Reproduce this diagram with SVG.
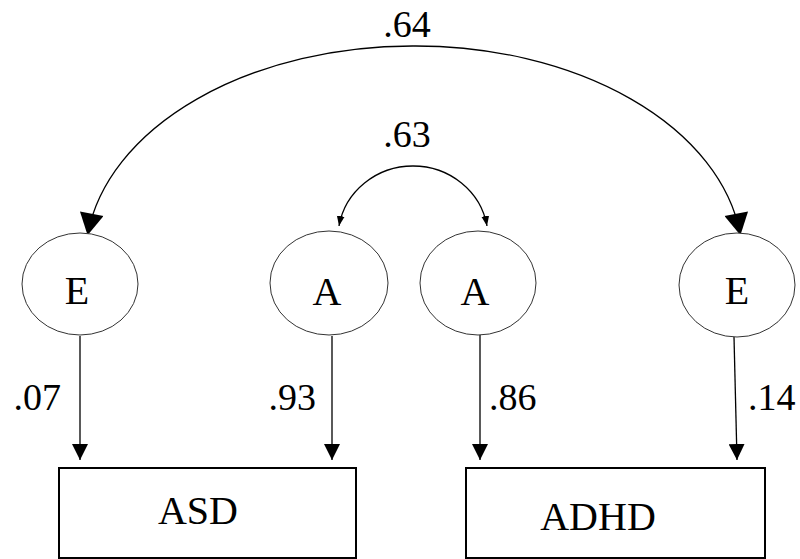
<svg xmlns="http://www.w3.org/2000/svg" width="800" height="559" viewBox="0 0 800 559">
<defs>
<style>
.t{font-family:"Liberation Serif","Times New Roman",serif;fill:#000}
.lbl{font-size:38px}
.nm{font-size:40px}
.lat{fill:#fff;stroke:#333;stroke-width:1}
.obs{fill:#fff;stroke:#000;stroke-width:2}
.c{fill:none;stroke:#000;stroke-width:1.3}
</style>
<marker id="big" markerUnits="userSpaceOnUse" markerWidth="24" markerHeight="24" viewBox="0 0 20 22" refX="18" refY="11" orient="auto">
<polygon points="0,0 20,11 0,22" fill="#000"/>
</marker>
<marker id="mid" markerUnits="userSpaceOnUse" markerWidth="16" markerHeight="16" viewBox="0 0 14 14" refX="14" refY="7" orient="auto">
<polygon points="0,0 14,7 0,14" fill="#000"/>
</marker>
<marker id="small" markerUnits="userSpaceOnUse" markerWidth="10" markerHeight="10" viewBox="0 0 9 7" refX="9" refY="3.5" orient="auto">
<polygon points="0,0 9,3.5 0,7" fill="#000"/>
</marker>
</defs>
<rect width="800" height="559" fill="#fff"/>
<g id="connectors">
<path class="c" d="M 414 46 A 327 214 0 0 0 88 233" marker-end="url(#big)"/>
<path class="c" d="M 414 46 A 327 214 0 0 1 740 233" marker-end="url(#big)"/>
<path class="c" d="M 413 166 A 75 72 0 0 0 339 226" marker-end="url(#small)"/>
<path class="c" d="M 413 166 A 75 72 0 0 1 487 226" marker-end="url(#small)"/>
<line class="c" x1="80" y1="336" x2="80" y2="460" marker-end="url(#mid)"/>
<line class="c" x1="332" y1="336" x2="332" y2="460" marker-end="url(#mid)"/>
<line class="c" x1="480" y1="335" x2="480" y2="460" marker-end="url(#mid)"/>
<line class="c" x1="734" y1="337" x2="737" y2="460" marker-end="url(#mid)"/>
</g>
<g id="labels">
<text class="t lbl" x="407" y="37" text-anchor="middle">.64</text>
<text class="t lbl" x="407" y="147" text-anchor="middle">.63</text>
<text class="t lbl" x="61" y="410" text-anchor="end">.07</text>
<text class="t lbl" x="316" y="410" text-anchor="end">.93</text>
<text class="t lbl" x="489" y="410">.86</text>
<text class="t lbl" x="748" y="410">.14</text>
</g>
<g id="E1"><ellipse class="lat" cx="80" cy="284" rx="58" ry="51"/><text class="t nm" x="77" y="304" text-anchor="middle">E</text></g>
<g id="A1"><ellipse class="lat" cx="329" cy="283" rx="59" ry="52"/><text class="t nm" x="327" y="305" text-anchor="middle">A</text></g>
<g id="A2"><ellipse class="lat" cx="478" cy="283" rx="58" ry="52"/><text class="t nm" x="475" y="305" text-anchor="middle">A</text></g>
<g id="E2"><ellipse class="lat" cx="737" cy="285" rx="58" ry="52"/><text class="t nm" x="737" y="304" text-anchor="middle">E</text></g>
<g id="ASD"><rect class="obs" x="59" y="468" width="297" height="90"/><text class="t nm" x="198" y="524" text-anchor="middle">ASD</text></g>
<g id="ADHD"><rect class="obs" x="466" y="468" width="299" height="90"/><text class="t nm" x="598" y="530" text-anchor="middle">ADHD</text></g>
</svg>
